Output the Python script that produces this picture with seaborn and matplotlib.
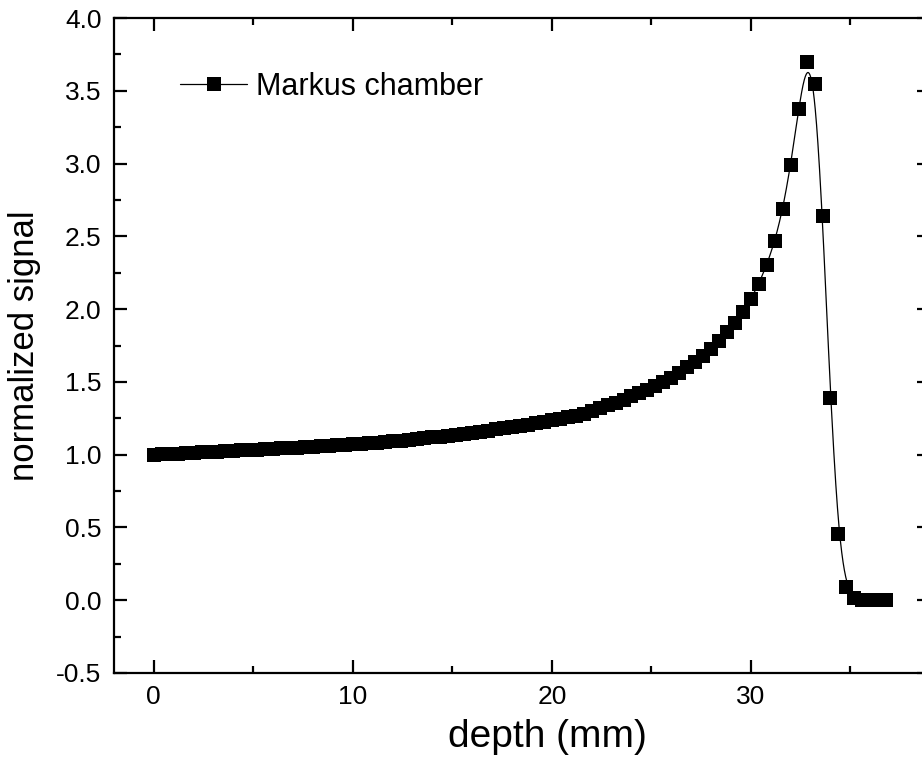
import numpy as np
import pandas as pd
import matplotlib
matplotlib.use("Agg")
import matplotlib.pyplot as plt
import seaborn as sns
from matplotlib.lines import Line2D
from matplotlib.ticker import MultipleLocator, FormatStrFormatter

# ---- data ----
depth_mm = [
    0.0, 0.4, 0.8, 1.2, 1.6, 2.0, 2.4, 2.8, 3.2, 3.6,
    4.0, 4.4, 4.8, 5.2, 5.6, 6.0, 6.4, 6.8, 7.2, 7.6,
    8.0, 8.4, 8.8, 9.2, 9.6, 10.0, 10.4, 10.8, 11.2, 11.6,
    12.0, 12.4, 12.8, 13.2, 13.6, 14.0, 14.4, 14.8, 15.2, 15.6,
    16.0, 16.4, 16.8, 17.2, 17.6, 18.0, 18.4, 18.8, 19.2, 19.6,
    20.0, 20.4, 20.8, 21.2, 21.6, 22.0, 22.4, 22.8, 23.2, 23.6,
    24.0, 24.4, 24.8, 25.2, 25.6, 26.0, 26.4, 26.8, 27.2, 27.6,
    28.0, 28.4, 28.8, 29.2, 29.6, 30.0, 30.4, 30.8, 31.2, 31.6,
    32.0, 32.4, 32.8, 33.2, 33.6, 34.0, 34.4, 34.8, 35.2, 35.6,
    36.0, 36.4, 36.8,
]
signal = [
    1.000, 1.003, 1.005, 1.008, 1.010, 1.013, 1.016, 1.019, 1.021, 1.024,
    1.027, 1.030, 1.033, 1.035, 1.038, 1.041, 1.044, 1.047, 1.049, 1.052,
    1.055, 1.058, 1.061, 1.064, 1.067, 1.071, 1.074, 1.078, 1.082, 1.086,
    1.091, 1.096, 1.101, 1.106, 1.112, 1.118, 1.124, 1.130, 1.137, 1.144,
    1.151, 1.158, 1.165, 1.173, 1.181, 1.189, 1.197, 1.206, 1.215, 1.225,
    1.235, 1.246, 1.257, 1.269, 1.282, 1.298, 1.320, 1.340, 1.358, 1.377,
    1.400, 1.422, 1.446, 1.473, 1.498, 1.530, 1.560, 1.599, 1.635, 1.679,
    1.727, 1.782, 1.841, 1.907, 1.982, 2.069, 2.175, 2.305, 2.466, 2.686,
    2.990, 3.377, 3.696, 3.547, 2.642, 1.389, 0.455, 0.093, 0.013, 0.002,
    0.000, 0.000, 0.000,
]
series_label = "Markus chamber"
x_label = "depth (mm)"
y_label = "normalized signal"
x_major_ticks = [0, 10, 20, 30]
y_major_ticks = [-0.5, 0.0, 0.5, 1.0, 1.5, 2.0, 2.5, 3.0, 3.5, 4.0]

assert len(depth_mm) == len(signal)


def bspline_connect(xs, ys, n=24):
    """Uniform cubic B-spline with the data points as control points
    (the 'B-spline' line connection used by the original plot)."""
    P = np.column_stack([xs, ys]).astype(float)
    P = np.vstack([P[:1], P[:1], P, P[-1:], P[-1:]])
    t = np.linspace(0, 1, n, endpoint=False)[:, None]
    b0 = (1 - t) ** 3 / 6
    b1 = (3 * t ** 3 - 6 * t ** 2 + 4) / 6
    b2 = (-3 * t ** 3 + 3 * t ** 2 + 3 * t + 1) / 6
    b3 = t ** 3 / 6
    segs = [b0 * P[i] + b1 * P[i + 1] + b2 * P[i + 2] + b3 * P[i + 3]
            for i in range(len(P) - 3)]
    segs.append(P[-1:])
    return np.vstack(segs)


df = pd.DataFrame({"depth": depth_mm, "signal": signal})
curve = bspline_connect(depth_mm, signal)
curve_df = pd.DataFrame({"depth": curve[:, 0], "signal": curve[:, 1]})

sns.set_theme(style="ticks")
plt.rcParams["font.family"] = ["Liberation Sans", "DejaVu Sans"]
plt.rcParams["axes.linewidth"] = 1.6
plt.rcParams["text.color"] = "black"
plt.rcParams["axes.labelcolor"] = "black"
plt.rcParams["xtick.color"] = "black"
plt.rcParams["ytick.color"] = "black"

W, H = 922, 769
fig = plt.figure(figsize=(W / 100, H / 100), dpi=100)
ax = fig.add_axes([114 / W, (H - 673) / H, 816 / W, 655 / H])

sns.lineplot(data=curve_df, x="depth", y="signal", sort=False, estimator=None,
             color="black", linewidth=0.9, ax=ax, legend=False)
sns.scatterplot(data=df, x="depth", y="signal", marker="s", s=9.6 ** 2,
                color="black", linewidth=0, ax=ax, legend=False, zorder=3)

ax.set_xlim(-2, 39)
ax.set_ylim(-0.5, 4.0)
ax.set_xticks(x_major_ticks)
ax.set_yticks(y_major_ticks)
ax.xaxis.set_minor_locator(MultipleLocator(5))
ax.yaxis.set_minor_locator(MultipleLocator(0.25))
ax.yaxis.set_major_formatter(FormatStrFormatter("%.1f"))

for s in ax.spines.values():
    s.set_visible(True)
    s.set_linewidth(1.6)
    s.set_color("black")

ax.tick_params(which="both", direction="in", top=True, right=True,
               color="black", labelcolor="black")
ax.tick_params(which="major", length=9.5, width=1.6, labelsize=19, pad=9)
ax.tick_params(which="minor", length=5, width=1.6)

ax.set_xlabel(x_label, fontsize=28, color="black")
ax.xaxis.set_label_coords(0.5306, -0.070)
ax.set_ylabel(y_label, fontsize=25, labelpad=11, color="black")

handle = Line2D([], [], color="black", linewidth=0.9, marker="s",
                markersize=9.6, markerfacecolor="black", markeredgewidth=0)
leg = ax.legend([handle], [series_label], loc="upper left",
                bbox_to_anchor=(0.081, 0.918), frameon=False, fontsize=22,
                handlelength=2.2, handletextpad=0.3, borderpad=0,
                borderaxespad=0)
for t in leg.get_texts():
    t.set_color("black")

fig.savefig("out.png", dpi=100)
